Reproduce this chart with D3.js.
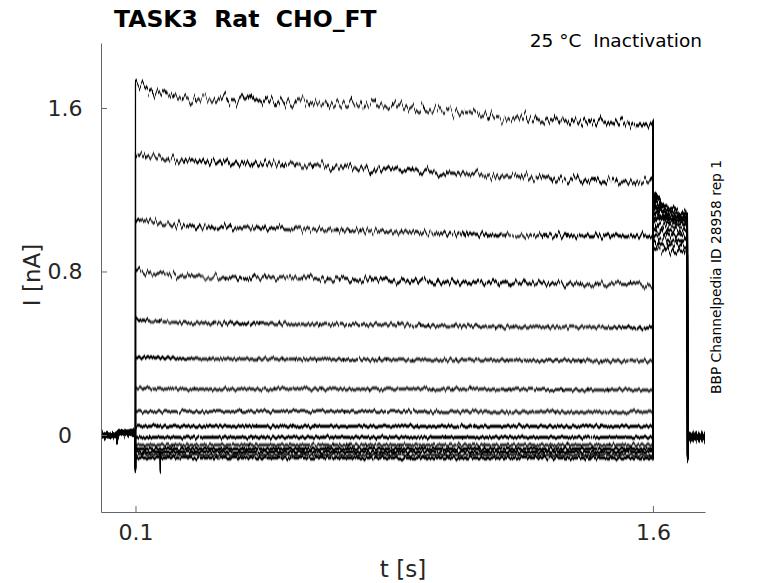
<!DOCTYPE html>
<html>
<head>
<meta charset="utf-8">
<script src="https://cdn.jsdelivr.net/npm/d3@7"></script>
<style>
  body { margin: 0; background: #fff; }
  svg { display: block; font-family: "DejaVu Sans", sans-serif; }
</style>
</head>
<body>
<div id="wrapper"></div>
<script>
// 1. Data (nA vs s)

// baseline before the pulse
const preTimes  = [0, 0.045, 0.047, 0.049, 0.0995]
const preValues = [-0.003, -0.003, -0.035, 0.012, 0.012]
const onsetTransient = -0.17

// pulse, 0.1 s -> 1.6 s
const pulseTimes = [0.1, 0.115, 0.145, 0.19, 0.29, 0.58, 0.87, 1.16, 1.45, 1.6]
const trace1  = [1.712, 1.703, 1.678, 1.654, 1.639, 1.629, 1.605, 1.556, 1.531, 1.521]
const trace2  = [1.380, 1.370, 1.360, 1.350, 1.340, 1.321, 1.296, 1.267, 1.248, 1.233]
const trace3  = [1.062, 1.052, 1.042, 1.032, 1.018, 1.008, 0.993, 0.978, 0.974, 0.974]
const trace4  = [0.807, 0.797, 0.788, 0.783, 0.773, 0.768, 0.753, 0.744, 0.739, 0.734]
const trace5  = [0.568, 0.563, 0.558, 0.553, 0.548, 0.543, 0.538, 0.528, 0.528, 0.523]
const trace6  = [0.382, 0.382, 0.377, 0.377, 0.372, 0.372, 0.367, 0.367, 0.362, 0.362]
const trace7  = [0.230, 0.230, 0.225, 0.225, 0.225, 0.225, 0.225, 0.225, 0.220, 0.220]
const trace8  = [0.115, 0.115, 0.115, 0.115, 0.115, 0.115, 0.115, 0.112, 0.112, 0.112]
const trace9  = [0.042, 0.042, 0.042, 0.042, 0.042, 0.042, 0.042, 0.042, 0.042, 0.042]
const trace10 = [-0.012, -0.012, -0.012, -0.012, -0.012, -0.012, -0.012, -0.012, -0.012, -0.012]
const trace11 = [-0.049, -0.049, -0.049, -0.049, -0.049, -0.049, -0.049, -0.049, -0.049, -0.049]
const trace12 = [-0.068, -0.068, -0.068, -0.068, -0.068, -0.068, -0.068, -0.068, -0.068, -0.068]
const trace13 = [-0.083, -0.083, -0.083, -0.083, -0.083, -0.083, -0.083, -0.083, -0.083, -0.083]
const trace14 = [-0.098, -0.098, -0.098, -0.098, -0.098, -0.098, -0.098, -0.098, -0.098, -0.098]
const trace15 = [-0.112, -0.112, -0.112, -0.112, -0.112, -0.112, -0.112, -0.112, -0.112, -0.112]

// tail after the pulse, 1.6 s -> 1.7 s
const tailTimes = [1.6005, 1.61, 1.625, 1.65, 1.7]
const tail1  = [1.21, 1.17, 1.13, 1.10, 1.09]
const tail2  = [1.19, 1.16, 1.12, 1.09, 1.08]
const tail3  = [1.18, 1.14, 1.11, 1.08, 1.07]
const tail4  = [1.16, 1.13, 1.10, 1.08, 1.07]
const tail5  = [1.15, 1.12, 1.09, 1.07, 1.06]
const tail6  = [1.13, 1.10, 1.08, 1.06, 1.06]
const tail7  = [1.12, 1.09, 1.07, 1.06, 1.05]
const tail8  = [1.10, 1.08, 1.06, 1.05, 1.04]
const tail9  = [1.08, 1.06, 1.05, 1.04, 1.03]
const tail10 = [1.06, 1.04, 1.03, 1.02, 1.02]
const tail11 = [1.04, 1.02, 1.01, 1.00, 1.00]
const tail12 = [1.01, 1.00, 0.99, 0.98, 0.98]
const tail13 = [0.98, 0.97, 0.96, 0.95, 0.95]
const tail14 = [0.95, 0.94, 0.93, 0.93, 0.93]
const tail15 = [0.92, 0.91, 0.91, 0.90, 0.90]

// return to holding
const postTimes  = [1.7005, 1.702, 1.751]
const postValues = [-0.108, -0.01, -0.01]

// single glitch in one sweep
const glitchTrace = 12
const glitchTimes  = [0.1715, 0.172, 0.1725]
const glitchValues = [-0.083, -0.18, -0.083]

const pulses = [trace1, trace2, trace3, trace4, trace5, trace6, trace7, trace8,
  trace9, trace10, trace11, trace12, trace13, trace14, trace15]
const tails = [tail1, tail2, tail3, tail4, tail5, tail6, tail7, tail8,
  tail9, tail10, tail11, tail12, tail13, tail14, tail15]

const xTicks = [0.1, 1.6]
const yTicks = [0, 0.8, 1.6]
const xDomain = [0, 1.751]
const yDomain = [-0.377, 1.918]

// 2. Dimensions
const dimensions = {
  width: 778,
  height: 583,
  margin: { top: 43, right: 73, bottom: 71, left: 101 },
}
dimensions.boundedWidth = dimensions.width - dimensions.margin.left - dimensions.margin.right
dimensions.boundedHeight = dimensions.height - dimensions.margin.top - dimensions.margin.bottom

// noise amplitude (filter scale) per sweep, plus the tail
const noiseScale = [21, 17, 14, 12, 9, 7, 6, 6, 6, 6, 7, 7, 7, 7, 7]
const tailNoise = 18

// 3. Canvas
const wrapper = d3.select("#wrapper").append("svg")
  .attr("width", dimensions.width)
  .attr("height", dimensions.height)

const defs = wrapper.append("defs")
function addNoiseFilter(id, scale, seed) {
  const f = defs.append("filter")
    .attr("id", id)
    .attr("filterUnits", "userSpaceOnUse")
    .attr("x", -20).attr("y", -20)
    .attr("width", dimensions.boundedWidth + 40)
    .attr("height", dimensions.boundedHeight + 40)
    .attr("color-interpolation-filters", "sRGB")
  f.append("feTurbulence")
    .attr("type", "fractalNoise")
    .attr("baseFrequency", "0.35 0.01")
    .attr("numOctaves", 2)
    .attr("seed", seed)
    .attr("result", "noise")
  f.append("feColorMatrix")
    .attr("in", "noise")
    .attr("type", "matrix")
    .attr("values", "0 0 0 0 0.5  0 1 0 0 0  0 0 1 0 0  0 0 0 0 1")
    .attr("result", "ymap")
  f.append("feDisplacementMap")
    .attr("in", "SourceGraphic")
    .attr("in2", "ymap")
    .attr("scale", scale)
    .attr("xChannelSelector", "R")
    .attr("yChannelSelector", "G")
    .attr("result", "moved")
  // close the small vertical gaps between shifted columns
  f.append("feGaussianBlur")
    .attr("in", "moved")
    .attr("stdDeviation", "0 0.9")
    .attr("result", "soft")
  f.append("feComponentTransfer")
    .attr("in", "soft")
    .append("feFuncA")
      .attr("type", "linear")
      .attr("slope", 2.6)
}
pulses.forEach((p, i) => addNoiseFilter(`noise${i}`, noiseScale[i], i + 3))
tails.forEach((p, i) => addNoiseFilter(`tailnoise${i}`, tailNoise, i + 40))

const bounds = wrapper.append("g")
  .attr("transform", `translate(${dimensions.margin.left},${dimensions.margin.top})`)

// 4. Scales
const xScale = d3.scaleLinear().domain(xDomain).range([0, dimensions.boundedWidth])
const yScale = d3.scaleLinear().domain(yDomain).range([dimensions.boundedHeight, 0])

const lineGenerator = d3.line()
  .x(d => xScale(d[0]))
  .y(d => yScale(d[1]))

// 5. Draw data
const zip = (ts, vs) => ts.map((t, k) => [t, vs[k]])

pulses.forEach((p, i) => {
  let pts = zip(preTimes, preValues)
    .concat([[pulseTimes[0], onsetTransient]])
    .concat(zip(pulseTimes, p))
  if (i === glitchTrace) {
    pts = pts.concat(zip(glitchTimes, glitchValues)).sort((a, b) => a[0] - b[0])
  }
  bounds.append("path")
    .attr("d", lineGenerator(pts))
    .attr("fill", "none")
    .attr("stroke", "#000")
    .attr("stroke-width", 1.1)
    .attr("filter", `url(#noise${i})`)
})

tails.forEach((tl, i) => {
  const pts = [[1.6, pulses[i][pulses[i].length - 1]]]
    .concat(zip(tailTimes, tl))
    .concat(zip(postTimes, postValues))
  bounds.append("path")
    .attr("d", lineGenerator(pts))
    .attr("fill", "none")
    .attr("stroke", "#000")
    .attr("stroke-width", 1.2)
    .attr("filter", `url(#tailnoise${i})`)
})

// 6. Peripherals
const axisColor = "#666"
const textColor = "#262626"

const yAxisGenerator = d3.axisLeft(yScale)
  .tickValues(yTicks)
  .tickSizeInner(-6)
  .tickSizeOuter(0)
  .tickFormat(d3.format(""))
const yAxis = bounds.append("g").call(yAxisGenerator)
yAxis.select(".domain").attr("stroke", axisColor)
yAxis.selectAll(".tick line").attr("stroke", axisColor)
yAxis.selectAll(".tick text")
  .attr("x", -36)
  .attr("text-anchor", "middle")
  .attr("fill", textColor)
  .style("font-size", "22px")
  .style("font-family", "DejaVu Sans")

const xAxisGenerator = d3.axisBottom(xScale)
  .tickValues(xTicks)
  .tickSizeInner(-6)
  .tickSizeOuter(0)
  .tickPadding(12)
  .tickFormat(d3.format(""))
const xAxis = bounds.append("g")
  .attr("transform", `translate(0,${dimensions.boundedHeight})`)
  .call(xAxisGenerator)
xAxis.select(".domain").attr("stroke", axisColor)
xAxis.selectAll(".tick line").attr("stroke", axisColor)
xAxis.selectAll(".tick text")
  .attr("fill", textColor)
  .style("font-size", "22px")
  .style("font-family", "DejaVu Sans")

wrapper.append("text")
  .attr("x", dimensions.margin.left + dimensions.boundedWidth / 2)
  .attr("y", 577)
  .attr("text-anchor", "middle")
  .attr("fill", textColor)
  .style("font-size", "23px")
  .text("t [s]")

wrapper.append("text")
  .attr("transform", `translate(40,275) rotate(-90)`)
  .attr("text-anchor", "middle")
  .attr("fill", textColor)
  .style("font-size", "23px")
  .text("I [nA]")

wrapper.append("text")
  .attr("x", 114)
  .attr("y", 27)
  .attr("fill", "#000")
  .style("font-size", "23.5px")
  .style("font-weight", "bold")
  .style("white-space", "pre")
  .text("TASK3  Rat  CHO_FT")

wrapper.append("text")
  .attr("x", 702)
  .attr("y", 47)
  .attr("text-anchor", "end")
  .attr("fill", "#000")
  .style("font-size", "18.5px")
  .style("white-space", "pre")
  .text("25 °C  Inactivation")

wrapper.append("text")
  .attr("transform", `translate(721,277) rotate(-90)`)
  .attr("text-anchor", "middle")
  .attr("fill", "#000")
  .style("font-size", "13.8px")
  .text("BBP Channelpedia ID 28958 rep 1")
</script>
</body>
</html>
